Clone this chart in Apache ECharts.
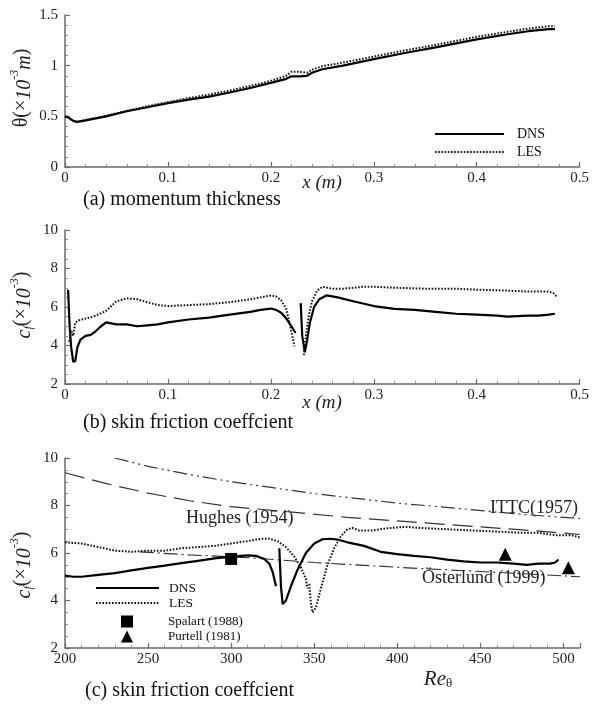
<!DOCTYPE html>
<html><head><meta charset="utf-8">
<script src="https://cdn.jsdelivr.net/npm/echarts@6/dist/echarts.min.js"></script>
<style>html,body{margin:0;padding:0;background:#fff}#c{width:592px;height:708px}</style>
</head><body><div id="c"></div>
<script>
// ---- Panel (a): momentum thickness ----
const aX   = [0, 0.003, 0.008, 0.012, 0.02, 0.04, 0.06, 0.08, 0.1, 0.12, 0.14, 0.16, 0.18, 0.2, 0.215, 0.22, 0.228, 0.235, 0.24, 0.25, 0.27, 0.3, 0.33, 0.36, 0.4, 0.43, 0.45, 0.47, 0.476];
const aDNS = [0.50, 0.49, 0.455, 0.445, 0.46, 0.50, 0.55, 0.59, 0.63, 0.665, 0.695, 0.735, 0.78, 0.83, 0.87, 0.895, 0.895, 0.90, 0.93, 0.965, 1.00, 1.065, 1.125, 1.18, 1.26, 1.31, 1.34, 1.36, 1.36];
const aLES = [0.50, 0.49, 0.455, 0.445, 0.465, 0.505, 0.555, 0.60, 0.64, 0.68, 0.715, 0.755, 0.80, 0.85, 0.90, 0.94, 0.94, 0.93, 0.96, 0.995, 1.03, 1.09, 1.15, 1.205, 1.285, 1.335, 1.365, 1.39, 1.39];

// ---- Panel (b): skin friction vs x ----
const bDNSx = [0.003, 0.0045, 0.006, 0.008, 0.01, 0.012, 0.015, 0.02, 0.025, 0.03, 0.035, 0.04, 0.045, 0.05, 0.06, 0.07, 0.08, 0.09, 0.1, 0.12, 0.14, 0.16, 0.18, 0.19, 0.2, 0.205, 0.21, 0.215, 0.22, 0.224, 0.226, 0.229, 0.2305, 0.233, 0.235, 0.238, 0.242, 0.247, 0.254, 0.265, 0.28, 0.3, 0.32, 0.34, 0.36, 0.38, 0.4, 0.42, 0.43, 0.45, 0.46, 0.47, 0.476];
const bDNS  = [6.9, 5.0, 3.9, 3.15, 3.2, 3.9, 4.3, 4.5, 4.55, 4.75, 5.0, 5.2, 5.15, 5.1, 5.1, 5.0, 5.05, 5.1, 5.2, 5.35, 5.45, 5.6, 5.75, 5.85, 5.92, 5.85, 5.7, 5.4, 5.0, 4.65, null, 6.2, 4.5, 3.65, 4.2, 5.2, 6.0, 6.4, 6.6, 6.5, 6.3, 6.05, 5.9, 5.85, 5.75, 5.65, 5.6, 5.55, 5.5, 5.55, 5.55, 5.6, 5.65];
const bLESx = [0.004, 0.006, 0.008, 0.01, 0.013, 0.02, 0.03, 0.04, 0.05, 0.06, 0.07, 0.08, 0.09, 0.1, 0.12, 0.14, 0.16, 0.18, 0.19, 0.2, 0.205, 0.21, 0.215, 0.218, 0.223, 0.226, 0.232, 0.234, 0.237, 0.24, 0.245, 0.25, 0.26, 0.27, 0.28, 0.29, 0.3, 0.32, 0.35, 0.38, 0.4, 0.43, 0.45, 0.47, 0.475, 0.478];
const bLES  = [4.2, 4.8, 4.5, 5.2, 5.3, 5.4, 5.55, 5.8, 6.3, 6.45, 6.4, 6.25, 6.1, 6.05, 6.1, 6.15, 6.25, 6.4, 6.5, 6.6, 6.55, 6.35, 5.9, 5.2, 3.95, null, 3.5, 4.5, 5.6, 6.3, 6.85, 7.05, 6.95, 6.95, 7.0, 7.05, 7.05, 7.0, 6.95, 6.95, 6.9, 6.85, 6.8, 6.8, 6.7, 6.5];

// ---- Panel (c): skin friction vs Re_theta ----
const cDNSx = [200, 205, 210, 220, 230, 240, 250, 260, 270, 280, 290, 300, 310, 315, 320, 323, 325, 327, 328, 329, 330, 331, 333, 336, 340, 345, 350, 355, 360, 365, 370, 380, 390, 400, 410, 420, 430, 440, 450, 460, 470, 478, 485, 492, 495, 497];
const cDNS  = [5.05, 5.0, 5.0, 5.08, 5.15, 5.27, 5.37, 5.47, 5.57, 5.67, 5.77, 5.85, 5.9, 5.88, 5.75, 5.55, 5.2, 4.6, null, 6.2, 4.6, 3.85, 4.0, 4.6, 5.3, 6.0, 6.4, 6.58, 6.6, 6.55, 6.45, 6.3, 6.05, 5.95, 5.88, 5.82, 5.72, 5.65, 5.6, 5.6, 5.55, 5.5, 5.55, 5.55, 5.6, 5.72];
const cLESx = [200, 210, 220, 230, 240, 250, 260, 270, 280, 290, 300, 310, 318, 323, 328, 333, 338, 342, 345, 346, 346.5, 347, 348, 349, 351, 354, 358, 362, 366, 370, 373, 377, 385, 395, 405, 415, 430, 445, 460, 475, 485, 495, 505, 510];
const cLES  = [6.45, 6.4, 6.25, 6.1, 6.05, 6.1, 6.1, 6.2, 6.25, 6.3, 6.4, 6.5, 6.6, 6.6, 6.5, 6.25, 5.85, 5.4, 4.9, 4.5, null, 4.7, 3.9, 3.5, 3.7, 4.5, 5.5, 6.2, 6.7, 7.0, 7.05, 6.95, 6.95, 7.05, 7.1, 7.05, 7.0, 6.95, 6.9, 6.85, 6.85, 6.75, 6.75, 6.65];
const hughesX = [200, 225, 250, 275, 300, 337, 370, 400, 450, 480, 510];
const hughes  = [9.38, 8.92, 8.52, 8.2, 7.95, 7.72, 7.5, 7.35, 7.1, 6.95, 6.78];
const ittcX = [230, 250, 275, 300, 325, 350, 375, 400, 425, 456, 480, 510];
const ittc  = [10.0, 9.65, 9.3, 9.0, 8.75, 8.5, 8.3, 8.1, 7.95, 7.75, 7.6, 7.45];
const osterX = [245, 275, 311, 350, 400, 450, 510];
const oster  = [6.05, 5.92, 5.8, 5.6, 5.4, 5.22, 5.0];
const spalartX = [300], spalart = [5.75];
const purtellX = [465, 503], purtell = [5.95, 5.38];

function pairs(xs, ys){ return xs.map((x,i)=> ys[i]===null ? [x,'-'] : [x, ys[i]]); }

const SERIF = "'Liberation Serif','Times New Roman',serif";
const axisCommon = {
  axisLine:{show:true, onZero:false, lineStyle:{color:'#6a6a6a', width:1.5}},
  axisTick:{show:true, inside:true, length:5, lineStyle:{color:'#6a6a6a', width:1.2}},
  minorTick:{show:true, length:3, lineStyle:{color:'#8a8a8a', width:1}},
  splitLine:{show:false},
  axisLabel:{fontFamily:SERIF, fontSize:15, color:'#222'}
};
function xAx(grid, min, max, interval, showMax){
  return {type:'value', gridIndex:grid, min, max, interval,
    axisLine:axisCommon.axisLine, axisTick:axisCommon.axisTick,
    minorTick:Object.assign({splitNumber:5}, axisCommon.minorTick),
    splitLine:axisCommon.splitLine,
    axisLabel:Object.assign({margin:4, showMaxLabel: showMax}, axisCommon.axisLabel)};
}
function yAx(grid, min, max, interval, minorSplit){
  return {type:'value', gridIndex:grid, min, max, interval,
    axisLine:axisCommon.axisLine, axisTick:axisCommon.axisTick,
    minorTick:Object.assign({splitNumber:minorSplit}, axisCommon.minorTick),
    splitLine:axisCommon.splitLine,
    axisLabel:Object.assign({margin:7}, axisCommon.axisLabel)};
}

const DNS_STYLE = {color:'#000', width:2.2, type:'solid'};
const LES_STYLE = {color:'#111', width:2, type:[1.6,1.6]};
function line(name, xi, yi, data, ls){
  return {name, type:'line', xAxisIndex:xi, yAxisIndex:yi, data, showSymbol:false, symbol:'none',
    connectNulls:false, lineStyle:ls, itemStyle:{color:ls.color}, silent:true, animation:false, z:3};
}
const hideSym = {opacity:0, color:'rgba(0,0,0,0)', borderWidth:0};

const chart = echarts.init(document.getElementById('c'), null, {renderer:'canvas'});
const option = {
  backgroundColor:'#fff',
  animation:false,
  grid:[
    {left:65, width:515, top:15, height:152},
    {left:65, width:515, top:230, height:154},
    {left:65, width:515, top:458, height:190}
  ],
  xAxis:[
    xAx(0, 0, 0.5, 0.1, true),
    xAx(1, 0, 0.5, 0.1, true),
    xAx(2, 200, 510, 50, false)
  ],
  yAxis:[
    yAx(0, 0, 1.5, 0.5, 5),
    yAx(1, 2, 10, 2, 4),
    yAx(2, 2, 10, 2, 4)
  ],
  legend:[
    {left:434, top:127, padding:0, orient:'vertical', itemWidth:69, itemHeight:14, itemGap:4, selectedMode:false,
     itemStyle:hideSym,
     data:['DNS','LES'], textStyle:{fontFamily:SERIF, fontSize:14, color:'#111', padding:[0,0,0,8]}},
    {left:95, top:581, padding:0, orient:'vertical', itemWidth:63, itemHeight:14, itemGap:1, selectedMode:false,
     itemStyle:hideSym,
     data:['DNS','LES'], textStyle:{fontFamily:SERIF, fontSize:13.5, color:'#111', padding:[0,0,0,5]}},
    {left:121, top:615, padding:0, orient:'vertical', itemWidth:12, itemHeight:12, itemGap:2, selectedMode:false,
     data:['Spalart (1988)','Purtell (1981)'], textStyle:{fontFamily:SERIF, fontSize:13, color:'#111', padding:[0,0,0,30]}}
  ],
  series:[
    line('DNS', 0, 0, pairs(aX, aDNS), DNS_STYLE),
    line('LES', 0, 0, pairs(aX, aLES), LES_STYLE),
    line('DNS', 1, 1, pairs(bDNSx, bDNS), DNS_STYLE),
    line('LES', 1, 1, pairs(bLESx, bLES), LES_STYLE),
    line('Hughes (1954)', 2, 2, pairs(hughesX, hughes), {color:'#333', width:1.2, type:[20,8]}),
    line('ITTC(1957)', 2, 2, pairs(ittcX, ittc), {color:'#333', width:1.2, type:[14,4,2,4,2,4]}),
    line('Österlund (1999)', 2, 2, pairs(osterX, oster), {color:'#333', width:1.2, type:[14,4,2,4]}),
    line('DNS', 2, 2, pairs(cDNSx, cDNS), DNS_STYLE),
    line('LES', 2, 2, pairs(cLESx, cLES), LES_STYLE),
    {name:'Spalart (1988)', type:'scatter', xAxisIndex:2, yAxisIndex:2, symbol:'rect', symbolSize:12,
     itemStyle:{color:'#000', opacity:1}, data:pairs(spalartX, spalart), z:5, silent:true},
    {name:'Purtell (1981)', type:'scatter', xAxisIndex:2, yAxisIndex:2, symbol:'triangle', symbolSize:13,
     itemStyle:{color:'#000', opacity:1}, data:pairs(purtellX, purtell), z:5, silent:true}
  ],
  graphic:[
    {type:'text', x:22, y:88, rotation:Math.PI/2, style:{text:'θ(×{i|10}{s|-3}{i|m})', fill:'#222', font:'20px '+SERIF, align:'center', verticalAlign:'middle',
      rich:{i:{fontFamily:SERIF, fontStyle:'italic', fontSize:20, lineHeight:26, verticalAlign:'bottom'}, s:{fontFamily:SERIF, fontStyle:'italic', fontSize:12, lineHeight:26, verticalAlign:'top'}}}},
    {type:'text', x:22, y:305, rotation:Math.PI/2, style:{text:'{i|c}{b|f}(×{i|10}{s|-3})', fill:'#222', font:'20px '+SERIF, align:'center', verticalAlign:'middle',
      rich:{i:{fontFamily:SERIF, fontStyle:'italic', fontSize:20, lineHeight:26, verticalAlign:'bottom'}, s:{fontFamily:SERIF, fontStyle:'italic', fontSize:12, lineHeight:26, verticalAlign:'top'}, b:{fontFamily:SERIF, fontStyle:'italic', fontSize:12, lineHeight:22, verticalAlign:'bottom'}}}},
    {type:'text', x:22, y:565, rotation:Math.PI/2, style:{text:'{i|c}{b|f}(×{i|10}{s|-3})', fill:'#222', font:'20px '+SERIF, align:'center', verticalAlign:'middle',
      rich:{i:{fontFamily:SERIF, fontStyle:'italic', fontSize:20, lineHeight:26, verticalAlign:'bottom'}, s:{fontFamily:SERIF, fontStyle:'italic', fontSize:12, lineHeight:26, verticalAlign:'top'}, b:{fontFamily:SERIF, fontStyle:'italic', fontSize:12, lineHeight:22, verticalAlign:'bottom'}}}},
    {type:'text', x:322, y:183, style:{text:'x (m)', fill:'#222', font:'italic 19px '+SERIF, align:'center', verticalAlign:'middle'}},
    {type:'text', x:322, y:403, style:{text:'x (m)', fill:'#222', font:'italic 19px '+SERIF, align:'center', verticalAlign:'middle'}},
    {type:'text', x:438, y:676, style:{text:'{i|Re}{b|θ}', fill:'#222', font:'italic 20px '+SERIF, align:'center', verticalAlign:'middle',
      rich:{i:{fontFamily:SERIF, fontStyle:'italic', fontSize:21, lineHeight:28, verticalAlign:'bottom'}, b:{fontFamily:SERIF, fontSize:13, lineHeight:24, verticalAlign:'bottom'}}}},
    {type:'text', x:83, y:200, style:{text:'(a) momentum thickness', fill:'#111', font:'20px '+SERIF, align:'left', verticalAlign:'middle'}},
    {type:'text', x:83, y:423, style:{text:'(b) skin friction coeffcient', fill:'#111', font:'20px '+SERIF, align:'left', verticalAlign:'middle'}},
    {type:'text', x:85, y:691, style:{text:'(c) skin friction coeffcient', fill:'#111', font:'20px '+SERIF, align:'left', verticalAlign:'middle'}},
    {type:'text', x:186, y:518, style:{text:'Hughes (1954)', fill:'#222', font:'18px '+SERIF, align:'left', verticalAlign:'middle'}},
    {type:'text', x:490, y:508, style:{text:'ITTC(1957)', fill:'#222', font:'18px '+SERIF, align:'left', verticalAlign:'middle'}},
    {type:'text', x:422, y:578, style:{text:'Österlund (1999)', fill:'#222', font:'18px '+SERIF, align:'left', verticalAlign:'middle'}}
  ]
};
chart.setOption(option);
</script>
</body></html>
